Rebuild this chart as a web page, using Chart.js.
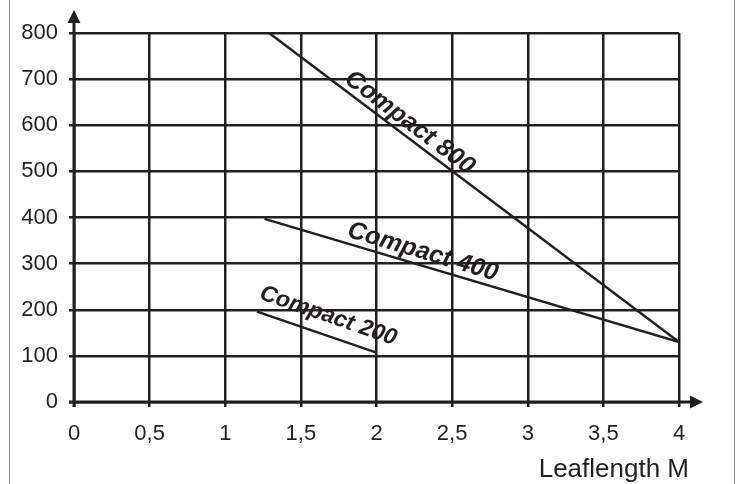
<!DOCTYPE html>
<html>
<head>
<meta charset="utf-8">
<script src="https://cdn.jsdelivr.net/npm/chart.js@4.4.1/dist/chart.umd.min.js"></script>
<style>
  html, body { margin: 0; padding: 0; background: #fff; }
  canvas { display: block; }
</style>
</head>
<body>
<canvas id="chart" width="742" height="484"></canvas>
<script>
// Data
const xTicks = [0, 0.5, 1, 1.5, 2, 2.5, 3, 3.5, 4];
const yTicks = [0, 100, 200, 300, 400, 500, 600, 700, 800];

const c800X = [1.29, 4];
const c800Y = [800, 130];
const c400X = [1.26, 4];
const c400Y = [397, 130];
const c200X = [1.21, 2];
const c200Y = [196, 107];

// Line labels, anchored at the start of their baseline (data units)
const labelText = ['Compact 800', 'Compact 400', 'Compact 200'];
const labelX = [1.78, 1.80, 1.22];
const labelY = [695, 359, 224];
const labelSize = [25, 25, 23];

const axisTitle = 'Leaflength M';

const ink = '#231f20';
const fontFamily = "'Liberation Sans', Arial, sans-serif";

function toPoints(xs, ys) {
    return xs.map((x, i) => ({ x: x, y: ys[i] }));
}

const seriesList = [toPoints(c800X, c800Y), toPoints(c400X, c400Y), toPoints(c200X, c200Y)];

// Axis arrows, frame lines and the rotated line labels
const decorPlugin = {
    id: 'decor',
    beforeDraw(chart) {
        const ctx = chart.ctx;
        ctx.save();
        ctx.strokeStyle = '#8a8a8a';
        ctx.lineWidth = 1;
        ctx.beginPath();
        ctx.moveTo(9.5, 0); ctx.lineTo(9.5, chart.height);
        ctx.moveTo(734.5, 0); ctx.lineTo(734.5, chart.height);
        ctx.stroke();
        ctx.restore();
    },
    afterDraw(chart) {
        const ctx = chart.ctx;
        const xs = chart.scales.x;
        const ys = chart.scales.y;
        const x0 = xs.getPixelForValue(0);
        const y0 = ys.getPixelForValue(0);
        const area = chart.chartArea;

        ctx.save();
        ctx.strokeStyle = ink;
        ctx.fillStyle = ink;
        ctx.lineWidth = 3;

        // axis lines
        ctx.beginPath();
        ctx.moveTo(x0, y0 + 5);
        ctx.lineTo(x0, area.top - 11);
        ctx.moveTo(x0 - 5, y0);
        ctx.lineTo(area.right + 12, y0);
        ctx.stroke();

        // arrow heads
        ctx.beginPath();
        ctx.moveTo(x0, area.top - 23);
        ctx.lineTo(x0 - 6.5, area.top - 10);
        ctx.lineTo(x0 + 6.5, area.top - 10);
        ctx.closePath();
        ctx.fill();
        ctx.beginPath();
        ctx.moveTo(area.right + 24, y0);
        ctx.lineTo(area.right + 11, y0 - 6.5);
        ctx.lineTo(area.right + 11, y0 + 6.5);
        ctx.closePath();
        ctx.fill();

        // axis title
        ctx.font = '26px ' + fontFamily;
        ctx.textAlign = 'right';
        ctx.textBaseline = 'alphabetic';
        ctx.fillText(axisTitle, area.right + 10, 477);

        // rotated labels along each line
        labelText.forEach((txt, i) => {
            const pts = seriesList[i];
            const ax = xs.getPixelForValue(pts[0].x), ay = ys.getPixelForValue(pts[0].y);
            const bx = xs.getPixelForValue(pts[1].x), by = ys.getPixelForValue(pts[1].y);
            const ang = Math.atan2(by - ay, bx - ax);
            ctx.save();
            ctx.translate(xs.getPixelForValue(labelX[i]), ys.getPixelForValue(labelY[i]));
            ctx.rotate(ang);
            ctx.font = 'italic bold ' + labelSize[i] + 'px ' + fontFamily;
            ctx.textAlign = 'left';
            ctx.textBaseline = 'alphabetic';
            ctx.fillText(txt, 0, 0);
            ctx.restore();
        });
        ctx.restore();
    }
};

new Chart(document.getElementById('chart'), {
    type: 'line',
    data: {
        datasets: seriesList.map((pts, i) => ({
            label: labelText[i],
            data: pts,
            borderColor: ink,
            borderWidth: 2.5,
            pointRadius: 0,
            fill: false,
            tension: 0
        }))
    },
    options: {
        responsive: false,
        animation: false,
        events: [],
        layout: { padding: { top: 33, right: 63, left: 0, bottom: 0 } },
        plugins: {
            legend: { display: false },
            tooltip: { enabled: false }
        },
        scales: {
            x: {
                type: 'linear',
                min: xTicks[0],
                max: xTicks[xTicks.length - 1],
                afterBuildTicks: (scale) => { scale.ticks = xTicks.map(v => ({ value: v })); },
                afterFit: (scale) => { scale.height = 82; },
                border: { display: false },
                grid: { color: ink, lineWidth: 2.5, tickLength: 5, tickColor: ink },
                ticks: {
                    color: ink,
                    padding: 14,
                    font: { family: fontFamily, size: 22 },
                    callback: (v) => String(v).replace('.', ',')
                }
            },
            y: {
                min: yTicks[0],
                max: yTicks[yTicks.length - 1],
                afterBuildTicks: (scale) => { scale.ticks = yTicks.map(v => ({ value: v })); },
                afterFit: (scale) => { scale.width = 74; },
                border: { display: false },
                grid: { color: ink, lineWidth: 2.5, tickLength: 5, tickColor: ink },
                ticks: {
                    color: ink,
                    padding: 11,
                    font: { family: fontFamily, size: 22 }
                }
            }
        }
    },
    plugins: [decorPlugin]
});
</script>
</body>
</html>
